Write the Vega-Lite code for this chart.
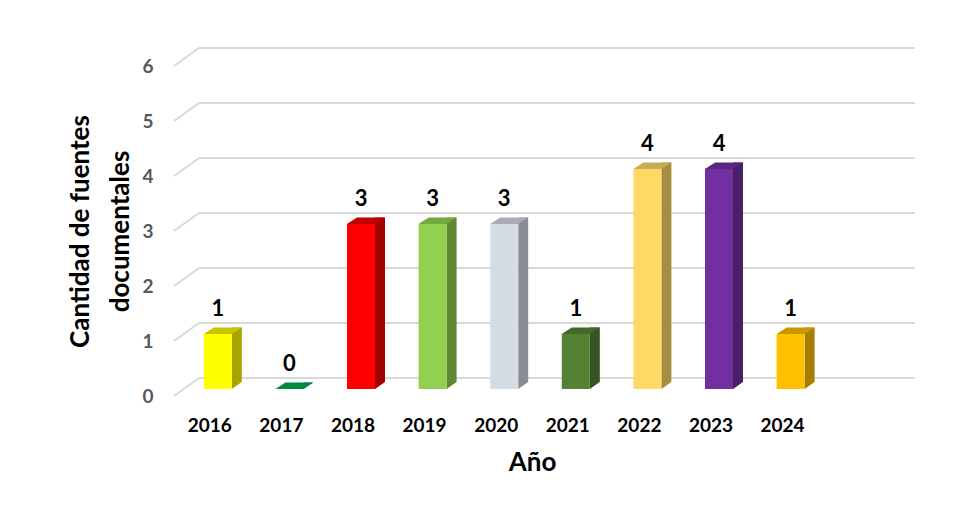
{
  "$schema": "https://vega.github.io/schema/vega-lite/v6.json",
  "autosize": "none",
  "width": 716,
  "height": 330,
  "padding": {"left": 174, "top": 66, "right": 63, "bottom": 119},
  "background": "white",
  "config": {
    "view": {"stroke": null},
    "font": "Lato",
    "axisY": {
      "grid": false, "domain": false, "ticks": false,
      "labelFont": "Lato", "labelFontWeight": "bold", "labelFontSize": 19, "labelColor": "#595959",
      "labelPadding": 21,
      "titleFont": "Lato", "titleFontWeight": "bold", "titleFontSize": 26, "titleColor": "#000000",
      "titleLineHeight": 40, "titlePadding": 8
    },
    "axisX": {
      "grid": false, "domain": false, "ticks": false,
      "labelFont": "Lato", "labelFontWeight": "bold", "labelFontSize": 19, "labelColor": "#000000",
      "labelPadding": 20, "labelAngle": 0,
      "titleFont": "Lato", "titleFontWeight": "bold", "titleFontSize": 26, "titleColor": "#000000",
      "titlePadding": 14
    }
  },
  "datasets": {
    "bars": [
      {"year": "2016", "n": 1},
      {"year": "2017", "n": 0},
      {"year": "2018", "n": 3},
      {"year": "2019", "n": 3},
      {"year": "2020", "n": 3},
      {"year": "2021", "n": 1},
      {"year": "2022", "n": 4},
      {"year": "2023", "n": 4},
      {"year": "2024", "n": 1}
    ],
    "grid": [{"v": 0}, {"v": 1}, {"v": 2}, {"v": 3}, {"v": 4}, {"v": 5}, {"v": 6}]
  },
  "resolve": {"scale": {"x": "independent"}},
  "layer": [
    {
      "data": {"name": "grid"},
      "mark": {"type": "rule", "color": "#D9D9D9", "strokeWidth": 2, "xOffset": 25, "x2Offset": 25, "yOffset": -18},
      "encoding": {
        "x": {"datum": 0, "type": "quantitative", "scale": {"domain": [0, 1]}, "axis": null},
        "x2": {"datum": 1},
        "y": {"field": "v", "type": "quantitative", "scale": {"domain": [0, 6], "nice": false},
          "title": ["Cantidad de fuentes", "documentales"],
          "axis": {"values": [0, 1, 2, 3, 4, 5, 6], "format": "d"}}
      }
    },
    {
      "data": {"name": "grid"},
      "mark": {"type": "rule", "color": "#D9D9D9", "strokeWidth": 2, "x2Offset": 25, "y2Offset": -18},
      "encoding": {
        "x": {"datum": 0, "type": "quantitative", "scale": {"domain": [0, 1]}, "axis": null},
        "x2": {"datum": 0},
        "y": {"field": "v", "type": "quantitative"},
        "y2": {"field": "v"}
      }
    },
    {
      "data": {"name": "bars"},
      "resolve": {"scale": {"color": "independent"}},
      "encoding": {
        "x": {
          "field": "year", "type": "nominal", "title": "Año",
          "scale": {"domain": ["2016", "2017", "2018", "2019", "2020", "2021", "2022", "2023", "2024", "2025"], "paddingInner": 0, "paddingOuter": 0},
          "axis": {"labelExpr": "datum.value == '2025' ? '' : datum.label"}
        }
      },
      "layer": [
        {
          "mark": {"type": "bar", "width": 10, "xOffset": 27, "yOffset": -13.5, "y2Offset": -7},
          "encoding": {
            "y": {"field": "n", "type": "quantitative"},
            "y2": {"datum": 0},
            "color": {"field": "year", "type": "nominal", "legend": null,
              "scale": {"domain": ["2016", "2017", "2018", "2019", "2020", "2021", "2022", "2023", "2024"],
                "range": ["#A8A500", "#006B30", "#A30000", "#5F8734", "#8A8E94", "#375522", "#A68D42", "#491F68", "#A67D00"]}}
          }
        },
        {
          "mark": {"type": "point", "filled": true, "opacity": 1, "strokeWidth": 0, "size": 400, "xOffset": 27, "yOffset": -10.5,
            "shape": "M -0.6 0.42 L 0.6 -0.42 L 0.6 0.45 L -0.6 0.45 Z"},
          "encoding": {
            "y": {"datum": 0, "type": "quantitative"},
            "color": {"value": "white"}
          }
        },
        {
          "mark": {"type": "bar", "width": 28, "xOffset": 8, "yOffset": -7, "y2Offset": -7},
          "encoding": {
            "y": {"field": "n", "type": "quantitative"},
            "y2": {"datum": 0},
            "color": {"field": "year", "type": "nominal", "legend": null,
              "scale": {"domain": ["2016", "2017", "2018", "2019", "2020", "2021", "2022", "2023", "2024"],
                "range": ["#FFFF00", "#00A04A", "#FF0000", "#92D050", "#D6DCE5", "#548235", "#FFD966", "#7030A0", "#FFC000"]}}
          }
        },
        {
          "mark": {"type": "point", "filled": true, "opacity": 1, "strokeWidth": 0, "size": 1444, "xOffset": 13, "yOffset": -10.25,
            "shape": "M -1 0.171 L -0.474 -0.171 L 1 -0.171 L 0.474 0.171 Z"},
          "encoding": {
            "y": {"field": "n", "type": "quantitative"},
            "color": {"field": "year", "type": "nominal", "legend": null,
              "scale": {"domain": ["2016", "2017", "2018", "2019", "2020", "2021", "2022", "2023", "2024"],
                "range": ["#C8C400", "#008A3E", "#C00000", "#76A83F", "#A8ADB3", "#436829", "#C9AB50", "#5A2680", "#C99700"]}}
          }
        },
        {
          "mark": {"type": "text", "font": "Lato", "fontWeight": "bold", "fontSize": 22, "color": "#000000", "baseline": "middle", "xOffset": 8, "yOffset": -32},
          "encoding": {
            "y": {"field": "n", "type": "quantitative"},
            "text": {"field": "n", "type": "quantitative"}
          }
        }
      ]
    }
  ]
}
